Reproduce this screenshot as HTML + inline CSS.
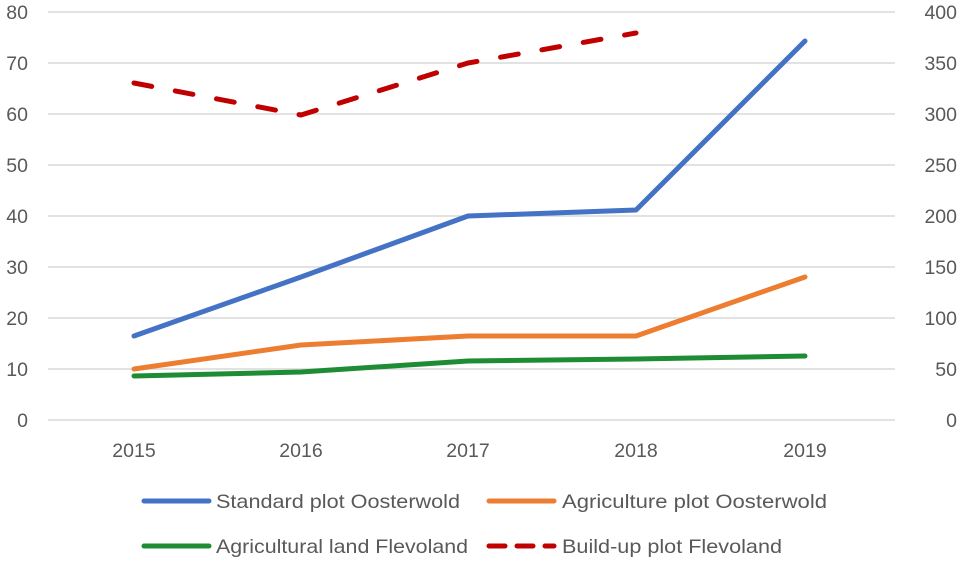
<!DOCTYPE html>
<html><head><style>body{margin:0;background:#fff}svg{display:block}text{font-family:"Liberation Sans",sans-serif;font-size:19.5px;fill:#595959}</style></head>
<body>
<svg width="960" height="561" viewBox="0 0 960 561">
<g stroke="#d9d9d9" stroke-width="1.5">
<line x1="48" x2="895" y1="12" y2="12"/><line x1="48" x2="895" y1="63" y2="63"/><line x1="48" x2="895" y1="114" y2="114"/><line x1="48" x2="895" y1="165" y2="165"/><line x1="48" x2="895" y1="216" y2="216"/><line x1="48" x2="895" y1="267" y2="267"/><line x1="48" x2="895" y1="318" y2="318"/><line x1="48" x2="895" y1="369" y2="369"/><line x1="48" x2="895" y1="420" y2="420"/>
</g>
<g text-anchor="end">
<text x="28" y="19">80</text><text x="28" y="70">70</text><text x="28" y="121">60</text><text x="28" y="172">50</text><text x="28" y="223">40</text><text x="28" y="274">30</text><text x="28" y="325">20</text><text x="28" y="376">10</text><text x="28" y="427">0</text>
<text x="957" y="19">400</text><text x="957" y="70">350</text><text x="957" y="121">300</text><text x="957" y="172">250</text><text x="957" y="223">200</text><text x="957" y="274">150</text><text x="957" y="325">100</text><text x="957" y="376">50</text><text x="957" y="427">0</text>
</g>
<g text-anchor="middle">
<text x="134" y="457">2015</text><text x="301" y="457">2016</text><text x="468" y="457">2017</text><text x="636" y="457">2018</text><text x="805" y="457">2019</text>
</g>
<g fill="none" stroke-width="5" stroke-linecap="round" stroke-linejoin="round">
<polyline stroke="#4472c4" points="134,336 301,277 468,216 636,210 805,41"/>
<polyline stroke="#ed7d31" points="134,369 301,345 468,336 636,336 805,277"/>
<polyline stroke="#1e8c34" points="134,376 301,372 468,361 636,359 805,356"/>
<polyline stroke="#c00000" stroke-dasharray="18,24" stroke-linecap="round" points="134,83 301,115 468,63 636,33"/>
</g>
<g stroke-width="5" stroke-linecap="round">
<line x1="144" x2="209" y1="501" y2="501" stroke="#4472c4"/>
<line x1="489" x2="554" y1="501" y2="501" stroke="#ed7d31"/>
<line x1="144" x2="209" y1="546" y2="546" stroke="#1e8c34"/>
<line x1="489" x2="554" y1="546" y2="546" stroke="#c00000" stroke-dasharray="16,12"/>
</g>
<text x="216" y="508" textLength="244" lengthAdjust="spacingAndGlyphs">Standard plot Oosterwold</text>
<text x="562" y="508" textLength="265" lengthAdjust="spacingAndGlyphs">Agriculture plot Oosterwold</text>
<text x="216" y="553" textLength="252" lengthAdjust="spacingAndGlyphs">Agricultural land Flevoland</text>
<text x="562" y="553" textLength="220" lengthAdjust="spacingAndGlyphs">Build-up plot Flevoland</text>
</svg>
</body></html>
